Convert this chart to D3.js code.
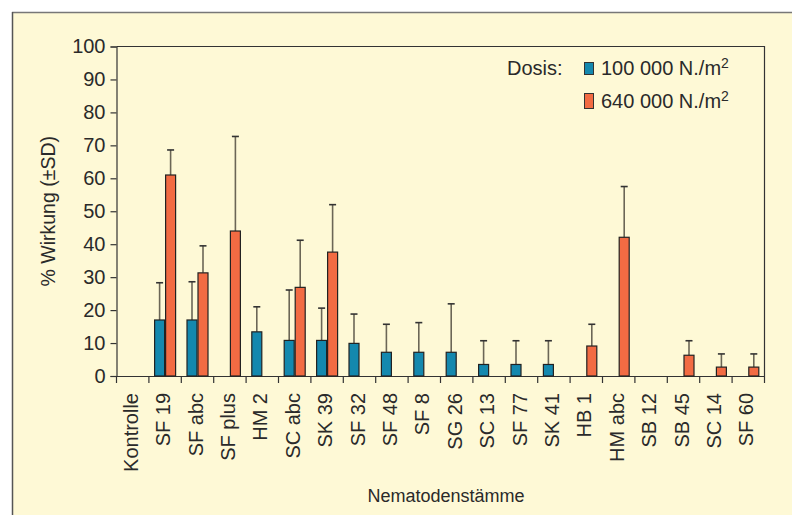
<!DOCTYPE html>
<html><head><meta charset="utf-8">
<script src="https://cdn.jsdelivr.net/npm/d3@7"></script>
<style>html,body{margin:0;padding:0;background:#fff;}svg{display:block;}</style>
</head><body>
<script>
const categories = ["Kontrolle","SF 19","SF abc","SF plus","HM 2","SC abc","SK 39","SF 32","SF 48","SF 8","SG 26","SC 13","SF 77","SK 41","HB 1","HM abc","SB 12","SB 45","SC 14","SF 60"];
const seriesNames = ["100 000 N./m", "640 000 N./m"];
const low = [null,17,17,null,13.4,10.8,10.8,9.9,7.2,7.2,7.2,3.5,3.5,3.5,null,null,null,null,null,null];
const lowSD = [null,11.3,11.6,null,7.6,15.3,9.8,8.9,8.5,9,14.7,7.2,7.2,7.2,null,null,null,null,null,null];
const high = [null,61,31.3,44,null,26.9,37.6,null,null,null,null,null,null,null,9.1,42.1,null,6.3,2.7,2.7];
const highSD = [null,7.6,8.2,28.7,null,14.3,14.4,null,null,null,null,null,null,null,6.6,15.4,null,4.4,4,4];
const yTicks = [0,10,20,30,40,50,60,70,80,90,100];

const W = 792, H = 515;
const colors = ["#1488ae", "#f26b43"];
const font = "'Liberation Sans', Arial, sans-serif";
const svg = d3.select("body").append("svg").attr("width", W).attr("height", H);

// frame
svg.append("rect").attr("x", 12).attr("y", 12).attr("width", W).attr("height", H).attr("fill", "#fef9d6");
svg.append("line").attr("x1", 12).attr("x2", W).attr("y1", 12.5).attr("y2", 12.5).attr("stroke", "#777").attr("stroke-width", 1.5);
svg.append("line").attr("x1", 12.5).attr("x2", 12.5).attr("y1", 12).attr("y2", H).attr("stroke", "#555").attr("stroke-width", 1.5);

const m = {l: 116.5, r: 764.5, t: 46.5, b: 376};
const x = d3.scaleBand().domain(categories).range([m.l, m.r]);
const y = d3.scaleLinear().domain([0, 100]).range([m.b, m.t]);
const bw = 11;

// plot frame top/right
svg.append("path").attr("d", `M${m.l},${m.t}H${m.r}V${m.b}`).attr("fill", "none").attr("stroke", "#333").attr("stroke-width", 1.2);

// y axis
const ya = svg.append("g").attr("transform", `translate(${m.l},0)`)
  .call(d3.axisLeft(y).tickValues(yTicks).tickSize(6).tickPadding(5));
ya.select(".domain").attr("stroke", "#333").attr("stroke-width", 1.2);
ya.selectAll(".tick line").attr("stroke", "#333").attr("stroke-width", 1.2);
ya.selectAll("text").attr("font-family", font).attr("font-size", 20).attr("fill", "#2a2a2a");

// x axis
const xa = svg.append("g").attr("transform", `translate(0,${m.b})`)
  .call(d3.axisBottom(x).tickSize(0).tickPadding(0));
xa.select(".domain").attr("stroke", "#333").attr("stroke-width", 1.2);
xa.selectAll(".tick text").attr("font-family", font).attr("font-size", 20).attr("fill", "#2a2a2a")
  .attr("text-anchor", "end").attr("dy", null)
  .attr("transform", "translate(5,17) rotate(-90)");
// boundary ticks
const bounds = categories.map(c => x(c)).concat([m.r]);
svg.append("g").selectAll("line").data(bounds).join("line")
  .attr("x1", d => d).attr("x2", d => d).attr("y1", m.b).attr("y2", m.b + 7)
  .attr("stroke", "#333").attr("stroke-width", 1.2);

// bars
const series = [{v: low, sd: lowSD, off: -bw}, {v: high, sd: highSD, off: 0}];
series.forEach((s, i) => {
  const g = svg.append("g");
  categories.forEach((c, j) => {
    const v = s.v[j];
    if (v == null) return;
    const cx = x(c) + x.bandwidth() / 2 + s.off;
    const top = v + s.sd[j];
    g.append("line").attr("x1", cx + bw / 2).attr("x2", cx + bw / 2)
      .attr("y1", y(v)).attr("y2", y(top)).attr("stroke", "#6b6656").attr("stroke-width", 1.6);
    g.append("line").attr("x1", cx + bw / 2 - 3.5).attr("x2", cx + bw / 2 + 3.5)
      .attr("y1", y(top)).attr("y2", y(top)).attr("stroke", "#333").attr("stroke-width", 1.6);
    g.append("rect").attr("x", cx + 0.5).attr("y", y(v)).attr("width", bw - 1).attr("height", y(0) - y(v))
      .attr("fill", colors[i]).attr("stroke", "#222").attr("stroke-width", 1.2);
  });
});

// legend
const lg = svg.append("g").attr("font-family", font).attr("font-size", 20).attr("fill", "#2a2a2a");
lg.append("text").attr("x", 507).attr("y", 75).text("Dosis:").attr("fill", "#2a2a2a");
seriesNames.forEach((n, i) => {
  const yy = 75 + i * 33;
  lg.append("rect").attr("x", 584.5).attr("y", yy - 12.5 - (i ? 2 : 0)).attr("width", 9).attr("height", 12 + (i ? 3 : 0))
    .attr("fill", colors[i]).attr("stroke", "#333").attr("stroke-width", 1);
  const t = lg.append("text").attr("x", 601).attr("y", yy).attr("fill", "#2a2a2a").text(n);
  t.append("tspan").attr("font-size", 14).attr("dy", -7).text("2");
});

// axis titles
svg.append("text").attr("transform", `translate(55,${(m.t + m.b) / 2}) rotate(-90)`)
  .attr("text-anchor", "middle").attr("font-family", font).attr("font-size", 19.5).attr("fill", "#2a2a2a")
  .text("% Wirkung (±SD)");
svg.append("text").attr("x", 446).attr("y", 502).attr("text-anchor", "middle")
  .attr("font-family", font).attr("font-size", 18).attr("fill", "#2a2a2a").text("Nematodenstämme");
</script>
</body></html>
